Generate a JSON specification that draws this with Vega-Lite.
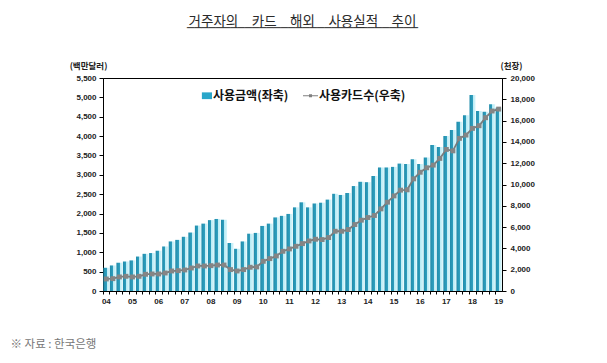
{
  "$schema": "https://vega.github.io/schema/vega-lite/v6.json",
  "width": 399,
  "height": 213,
  "autosize": "none",
  "padding": {"left": 103, "top": 78, "right": 105, "bottom": 72},
  "background": "white",
  "config": {"view": {"stroke": "#000", "strokeWidth": 1}, "font": "Noto Sans CJK KR"},
  "title": {
    "text": "거주자의　카드　해외　사용실적　추이",
    "subtitle": "────────────────────────────────",
    "anchor": "middle",
    "frame": "group",
    "font": "Noto Sans CJK KR",
    "fontSize": 13.5,
    "fontWeight": "normal",
    "color": "#2a2a2a",
    "subtitleFont": "DejaVu Sans",
    "subtitleFontSize": 12,
    "subtitleColor": "#333",
    "subtitlePadding": -5,
    "offset": 27
  },
  "datasets": {
    "main": [
      {"q": "04Q1", "amt": 600, "cards": 1130},
      {"q": "04Q2", "amt": 660, "cards": 1160},
      {"q": "04Q3", "amt": 730, "cards": 1320},
      {"q": "04Q4", "amt": 760, "cards": 1380},
      {"q": "05Q1", "amt": 790, "cards": 1320},
      {"q": "05Q2", "amt": 890, "cards": 1380},
      {"q": "05Q3", "amt": 960, "cards": 1570},
      {"q": "05Q4", "amt": 980, "cards": 1600},
      {"q": "06Q1", "amt": 1040, "cards": 1600},
      {"q": "06Q2", "amt": 1150, "cards": 1690},
      {"q": "06Q3", "amt": 1280, "cards": 1880},
      {"q": "06Q4", "amt": 1320, "cards": 1910},
      {"q": "07Q1", "amt": 1400, "cards": 1975},
      {"q": "07Q2", "amt": 1510, "cards": 2160},
      {"q": "07Q3", "amt": 1690, "cards": 2350},
      {"q": "07Q4", "amt": 1740, "cards": 2350},
      {"q": "08Q1", "amt": 1830, "cards": 2380},
      {"q": "08Q2", "amt": 1860, "cards": 2440},
      {"q": "08Q3", "amt": 1840, "cards": 2440},
      {"q": "08Q4", "amt": 1240, "cards": 2010},
      {"q": "09Q1", "amt": 1090, "cards": 1880},
      {"q": "09Q2", "amt": 1280, "cards": 2010},
      {"q": "09Q3", "amt": 1480, "cards": 2230},
      {"q": "09Q4", "amt": 1500, "cards": 2260},
      {"q": "10Q1", "amt": 1680, "cards": 2790},
      {"q": "10Q2", "amt": 1740, "cards": 3040},
      {"q": "10Q3", "amt": 1900, "cards": 3290},
      {"q": "10Q4", "amt": 1940, "cards": 3730},
      {"q": "11Q1", "amt": 1990, "cards": 3950},
      {"q": "11Q2", "amt": 2160, "cards": 4200},
      {"q": "11Q3", "amt": 2290, "cards": 4450},
      {"q": "11Q4", "amt": 2160, "cards": 4700},
      {"q": "12Q1", "amt": 2260, "cards": 4860},
      {"q": "12Q2", "amt": 2280, "cards": 4830},
      {"q": "12Q3", "amt": 2360, "cards": 5020},
      {"q": "12Q4", "amt": 2510, "cards": 5610},
      {"q": "13Q1", "amt": 2480, "cards": 5610},
      {"q": "13Q2", "amt": 2530, "cards": 5770},
      {"q": "13Q3", "amt": 2710, "cards": 6240},
      {"q": "13Q4", "amt": 2820, "cards": 6650},
      {"q": "14Q1", "amt": 2810, "cards": 6900},
      {"q": "14Q2", "amt": 2970, "cards": 7090},
      {"q": "14Q3", "amt": 3190, "cards": 7710},
      {"q": "14Q4", "amt": 3190, "cards": 8340},
      {"q": "15Q1", "amt": 3205, "cards": 8930},
      {"q": "15Q2", "amt": 3290, "cards": 9470},
      {"q": "15Q3", "amt": 3280, "cards": 9500},
      {"q": "15Q4", "amt": 3400, "cards": 10530},
      {"q": "16Q1", "amt": 3280, "cards": 11150},
      {"q": "16Q2", "amt": 3450, "cards": 11570},
      {"q": "16Q3", "amt": 3770, "cards": 11820},
      {"q": "16Q4", "amt": 3720, "cards": 12450},
      {"q": "17Q1", "amt": 4000, "cards": 13290},
      {"q": "17Q2", "amt": 4160, "cards": 13160},
      {"q": "17Q3", "amt": 4370, "cards": 14330},
      {"q": "17Q4", "amt": 4540, "cards": 14640},
      {"q": "18Q1", "amt": 5060, "cards": 15270},
      {"q": "18Q2", "amt": 4650, "cards": 15520},
      {"q": "18Q3", "amt": 4630, "cards": 16270},
      {"q": "18Q4", "amt": 4820, "cards": 16900},
      {"q": "19Q1", "amt": 4730, "cards": 17080}
    ],
    "legendItems": [
      {"s": "사용금액(좌축)"},
      {"s": "사용카드수(우축)"}
    ]
  },
  "layer": [
    {
      "data": {"name": "main"},
      "mark": {
        "type": "bar",
        "color": {
          "gradient": "linear", "x1": 0, "x2": 1, "y1": 0, "y2": 0,
          "stops": [
            {"offset": 0, "color": "#1f8cab"},
            {"offset": 0.55, "color": "#31a0bf"},
            {"offset": 0.55, "color": "#b8ebf5"},
            {"offset": 1, "color": "#d6f5fb"}
          ]
        }
      },
      "encoding": {
        "x": {
          "field": "q", "type": "ordinal",
          "scale": {"paddingInner": 0.08, "paddingOuter": 0.05},
          "axis": {
            "labelExpr": "indexof(datum.value, 'Q1') >= 0 ? substring(datum.value, 0, 2) : ''",
            "labelAngle": 0,
            "labelFont": "Liberation Sans",
            "labelFontSize": 8,
            "labelFontWeight": "bold",
            "labelColor": "#222",
            "labelPadding": 3,
            "tickSize": 3,
            "tickColor": "#000",
            "domainColor": "#000",
            "bandPosition": 0,
            "title": "※ 자료 : 한국은행",
            "titleFont": "Noto Sans CJK KR",
            "titleFontSize": 11.5,
            "titleFontWeight": "normal",
            "titleColor": "#777",
            "titleX": -93,
            "titleY": 56,
            "titleAlign": "left",
            "titleBaseline": "alphabetic",
            "titleAnchor": "start"
          }
        },
        "y": {
          "field": "amt", "type": "quantitative",
          "scale": {"domain": [0, 5500], "nice": false},
          "axis": {
            "values": [0, 500, 1000, 1500, 2000, 2500, 3000, 3500, 4000, 4500, 5000, 5500],
            "format": ",.0f",
            "grid": false,
            "labelFont": "Liberation Sans",
            "labelFontSize": 8,
            "labelFontWeight": "bold",
            "labelColor": "#222",
            "labelPadding": 3,
            "tickSize": 4,
            "tickColor": "#000",
            "domainColor": "#000",
            "title": "(백만달러)",
            "titleFont": "Noto Sans CJK KR",
            "titleFontSize": 8.5,
            "titleFontWeight": "bold",
            "titleColor": "#222",
            "titleAngle": 0,
            "titleX": -15,
            "titleY": -10,
            "titleAlign": "center",
            "titleBaseline": "alphabetic"
          }
        }
      }
    },
    {
      "data": {"name": "main"},
      "mark": {
        "type": "line",
        "color": "#7a7a7a",
        "strokeWidth": 1.8,
        "point": {"shape": "square", "size": 24, "filled": true, "color": "#858585"}
      },
      "encoding": {
        "x": {"field": "q", "type": "ordinal"},
        "y": {
          "field": "cards", "type": "quantitative",
          "scale": {"domain": [0, 20000], "nice": false},
          "axis": {
            "orient": "right",
            "values": [0, 2000, 4000, 6000, 8000, 10000, 12000, 14000, 16000, 18000, 20000],
            "format": ",.0f",
            "grid": false,
            "labelFont": "Liberation Sans",
            "labelFontSize": 8,
            "labelFontWeight": "bold",
            "labelColor": "#222",
            "labelPadding": 4,
            "tickSize": 4,
            "tickColor": "#000",
            "domainColor": "#000",
            "title": "(천장)",
            "titleFont": "Noto Sans CJK KR",
            "titleFontSize": 8.5,
            "titleFontWeight": "bold",
            "titleColor": "#222",
            "titleAngle": 0,
            "titleX": 9,
            "titleY": -10,
            "titleAlign": "center",
            "titleBaseline": "alphabetic"
          }
        }
      }
    },
    {
      "data": {"name": "legendItems"},
      "mark": {"type": "point", "opacity": 0, "filled": true, "strokeWidth": 0},
      "encoding": {
        "color": {
          "field": "s", "type": "nominal",
          "scale": {"domain": ["사용금액(좌축)", "사용카드수(우축)"], "range": ["#29a6c9", "#808080"]},
          "legend": {
            "orient": "none",
            "legendX": 94,
            "legendY": 10,
            "direction": "horizontal",
            "title": null,
            "padding": 0,
            "labelFont": "Noto Sans CJK KR",
            "labelFontSize": 12,
            "labelFontWeight": "bold",
            "labelColor": "#111",
            "labelOffset": 1,
            "symbolSize": 225,
            "symbolStrokeWidth": 0,
            "symbolOpacity": 1,
            "columnPadding": 14
          }
        },
        "shape": {
          "field": "s", "type": "nominal",
          "scale": {"domain": ["사용금액(좌축)", "사용카드수(우축)"], "range": ["M-0.35,-0.45H1V0.45H-0.35Z", "M-1,-0.06H1V0.06H-1Z M-0.2,-0.2H0.2V0.2H-0.2Z"]},
          "legend": {
            "orient": "none",
            "legendX": 94,
            "legendY": 10,
            "direction": "horizontal",
            "title": null,
            "padding": 0,
            "labelFont": "Noto Sans CJK KR",
            "labelFontSize": 12,
            "labelFontWeight": "bold",
            "labelColor": "#111",
            "labelOffset": 1,
            "symbolSize": 225,
            "symbolStrokeWidth": 0,
            "symbolOpacity": 1,
            "columnPadding": 14
          }
        }
      }
    }
  ],
  "resolve": {"scale": {"y": "independent"}}
}
